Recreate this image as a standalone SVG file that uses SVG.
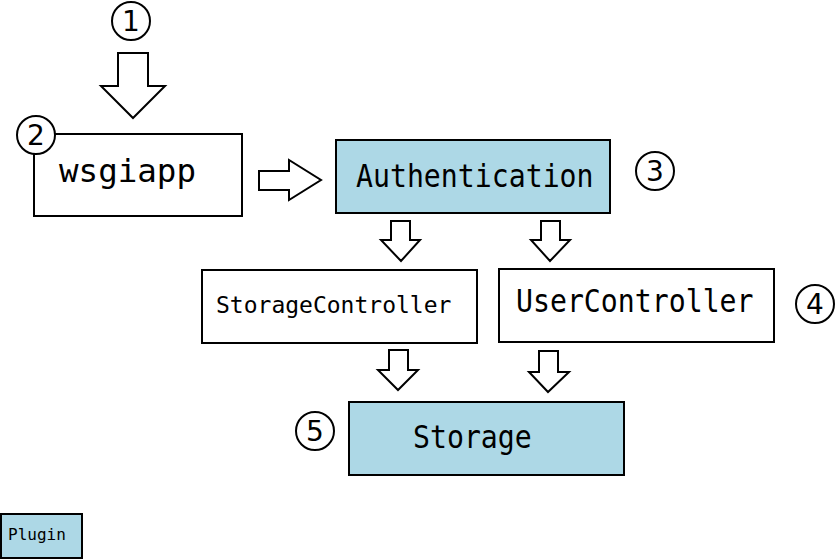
<svg xmlns="http://www.w3.org/2000/svg" width="836" height="560" viewBox="0 0 836 560">
<style>
.box{stroke:#000;stroke-width:2}
.plain{fill:#fff}
.plug{fill:#add8e6}
.lbl{font-family:"DejaVu Sans Mono",monospace;fill:#000}
.num{fill:#fff;stroke:#000;stroke-width:2}
.numt{font-family:"DejaVu Sans",sans-serif;font-size:28px;text-anchor:middle;fill:#000}
.arr{fill:#fff;stroke:#000;stroke-width:2;stroke-linejoin:miter}
</style>
<rect width="836" height="560" fill="#fff"/>
<g id="connectors">
<polygon class="arr" points="118,53 148,53 148,86 165,86 133,118 101,86 118,86"/>
<polygon class="arr" points="259,171 289,171 289,160 321,180 289,200 289,190 259,190"/>
<polygon class="arr" points="391,221 410,221 410,240 420,240 401,261 381,240 391,240"/>
<polygon class="arr" points="541,221 560,221 560,240 570,240 550,261 531,240 541,240"/>
<polygon class="arr" points="389,350 408,350 408,370 418,370 398,390 378,370 389,370"/>
<polygon class="arr" points="539,351 558,351 558,372 569,372 548,392 529,372 539,372"/>
</g>
<g id="wsgiapp">
<rect class="box plain" x="34" y="134" width="208" height="82"/>
<text class="lbl" x="59" y="182" font-size="32.5">wsgiapp</text>
</g>
<g id="authentication">
<rect class="box plug" x="336" y="140" width="274" height="73"/>
<text class="lbl" transform="translate(356,187) scale(1,1.1)" font-size="28.2">Authentication</text>
</g>
<g id="storagecontroller">
<rect class="box plain" x="202" y="270" width="275" height="73"/>
<text class="lbl" x="216" y="313" font-size="23">StorageController</text>
</g>
<g id="usercontroller">
<rect class="box plain" x="499" y="269" width="275" height="73"/>
<text class="lbl" transform="translate(516,312) scale(1,1.1)" font-size="28.2">UserController</text>
</g>
<g id="storage">
<rect class="box plug" x="349" y="402" width="275" height="73"/>
<text class="lbl" transform="translate(413,448) scale(1,1.1)" font-size="28.2">Storage</text>
</g>
<g id="legend">
<rect class="box plug" x="1" y="514" width="81" height="44"/>
<text class="lbl" x="8" y="540" font-size="16">Plugin</text>
</g>
<g id="num1"><circle class="num" cx="131" cy="21" r="19"/><text class="numt" x="131" y="31">1</text></g>
<g id="num2"><circle class="num" cx="36" cy="135" r="19"/><text class="numt" x="36" y="145">2</text></g>
<g id="num3"><circle class="num" cx="655" cy="171" r="19"/><text class="numt" x="655" y="181">3</text></g>
<g id="num4"><circle class="num" cx="815" cy="304" r="19"/><text class="numt" x="815" y="314">4</text></g>
<g id="num5"><circle class="num" cx="315" cy="431" r="19"/><text class="numt" x="315" y="441">5</text></g>
</svg>
